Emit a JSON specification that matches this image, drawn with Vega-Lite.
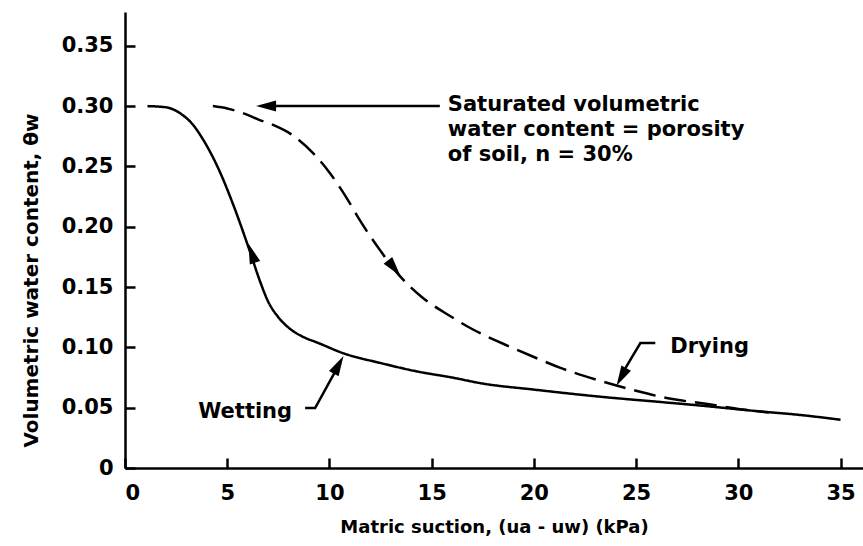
{
  "$schema": "https://vega.github.io/schema/vega-lite/v6.json",
  "width": 738,
  "height": 456,
  "autosize": {"type": "none"},
  "padding": {"left": 125, "top": 12, "right": 0, "bottom": 78},
  "background": "white",
  "config": {
    "view": {"stroke": null},
    "font": "DejaVu Sans",
    "axis": {
      "domainColor": "black", "domainWidth": 2.5, "tickColor": "black", "tickWidth": 2.5,
      "tickSize": -10, "grid": false, "labelColor": "black", "titleColor": "black",
      "labelFont": "DejaVu Sans", "titleFont": "DejaVu Sans", "labelFontWeight": "bold", "titleFontWeight": "bold"
    }
  },
  "datasets": {
    "curves": [
      {"curve": "Wetting", "x": 1.1, "y": 0.300},
      {"curve": "Wetting", "x": 2.0, "y": 0.299},
      {"curve": "Wetting", "x": 2.7, "y": 0.294},
      {"curve": "Wetting", "x": 3.3, "y": 0.285},
      {"curve": "Wetting", "x": 3.9, "y": 0.270},
      {"curve": "Wetting", "x": 4.6, "y": 0.247},
      {"curve": "Wetting", "x": 5.3, "y": 0.218},
      {"curve": "Wetting", "x": 6.1, "y": 0.180},
      {"curve": "Wetting", "x": 6.6, "y": 0.155},
      {"curve": "Wetting", "x": 7.0, "y": 0.138},
      {"curve": "Wetting", "x": 7.5, "y": 0.125},
      {"curve": "Wetting", "x": 8.1, "y": 0.115},
      {"curve": "Wetting", "x": 8.8, "y": 0.108},
      {"curve": "Wetting", "x": 9.4, "y": 0.104},
      {"curve": "Wetting", "x": 10.7, "y": 0.095},
      {"curve": "Wetting", "x": 12.5, "y": 0.087},
      {"curve": "Wetting", "x": 14.3, "y": 0.080},
      {"curve": "Wetting", "x": 16.0, "y": 0.075},
      {"curve": "Wetting", "x": 17.5, "y": 0.070},
      {"curve": "Wetting", "x": 20.0, "y": 0.065},
      {"curve": "Wetting", "x": 23.3, "y": 0.059},
      {"curve": "Wetting", "x": 26.0, "y": 0.055},
      {"curve": "Wetting", "x": 28.0, "y": 0.052},
      {"curve": "Wetting", "x": 31.0, "y": 0.047},
      {"curve": "Wetting", "x": 33.0, "y": 0.044},
      {"curve": "Wetting", "x": 35.0, "y": 0.040},
      {"curve": "Drying", "x": 4.3, "y": 0.300},
      {"curve": "Drying", "x": 5.0, "y": 0.298},
      {"curve": "Drying", "x": 5.8, "y": 0.294},
      {"curve": "Drying", "x": 6.5, "y": 0.289},
      {"curve": "Drying", "x": 7.3, "y": 0.284},
      {"curve": "Drying", "x": 8.1, "y": 0.277},
      {"curve": "Drying", "x": 9.2, "y": 0.261},
      {"curve": "Drying", "x": 10.0, "y": 0.245},
      {"curve": "Drying", "x": 10.8, "y": 0.225},
      {"curve": "Drying", "x": 11.5, "y": 0.205},
      {"curve": "Drying", "x": 12.5, "y": 0.180},
      {"curve": "Drying", "x": 13.3, "y": 0.162},
      {"curve": "Drying", "x": 14.5, "y": 0.142},
      {"curve": "Drying", "x": 15.9, "y": 0.126},
      {"curve": "Drying", "x": 17.0, "y": 0.115},
      {"curve": "Drying", "x": 18.5, "y": 0.103},
      {"curve": "Drying", "x": 20.0, "y": 0.092},
      {"curve": "Drying", "x": 21.3, "y": 0.083},
      {"curve": "Drying", "x": 23.3, "y": 0.072},
      {"curve": "Drying", "x": 25.0, "y": 0.064},
      {"curve": "Drying", "x": 26.5, "y": 0.058},
      {"curve": "Drying", "x": 28.5, "y": 0.053},
      {"curve": "Drying", "x": 30.0, "y": 0.049},
      {"curve": "Drying", "x": 31.5, "y": 0.046}
    ],
    "leaders": [
      {"id": "sat", "order": 1, "x": 15.4, "y": 0.300},
      {"id": "sat", "order": 2, "x": 7.0, "y": 0.300},
      {"id": "wet", "order": 1, "x": 8.81, "y": 0.0497},
      {"id": "wet", "order": 2, "x": 9.30, "y": 0.0497},
      {"id": "wet", "order": 3, "x": 10.3, "y": 0.0805},
      {"id": "dry", "order": 1, "x": 25.94, "y": 0.1036},
      {"id": "dry", "order": 2, "x": 25.21, "y": 0.1036},
      {"id": "dry", "order": 3, "x": 24.45, "y": 0.082}
    ],
    "arrows": [
      {"id": "sat", "x": 6.9, "y": 0.300},
      {"id": "wetcurve", "x": 6.2, "y": 0.178},
      {"id": "drycurve", "x": 13.17, "y": 0.1657},
      {"id": "wet", "x": 10.45, "y": 0.0855},
      {"id": "dry", "x": 24.28, "y": 0.0755}
    ],
    "labels": [
      {"id": "sat", "x": 15.4, "y": 0.300, "text": "Saturated volumetric\nwater content = porosity\nof soil, n = 30%"},
      {"id": "wet", "x": 8.81, "y": 0.0497, "text": "Wetting"},
      {"id": "dry", "x": 25.94, "y": 0.1036, "text": "Drying"}
    ]
  },
  "encoding": {
    "x": {"field": "x", "type": "quantitative",
      "scale": {"domain": [0, 36.1], "nice": false, "zero": false},
      "axis": {"values": [0, 5, 10, 15, 20, 25, 30, 35], "labelFontSize": 21, "labelPadding": 24,
        "title": "Matric suction, (ua - uw) (kPa)", "titleFontSize": 18, "titlePadding": 15}},
    "y": {"field": "y", "type": "quantitative",
      "scale": {"domain": [0, 0.378], "nice": false, "zero": false},
      "axis": {"values": [0, 0.05, 0.1, 0.15, 0.2, 0.25, 0.3, 0.35], "labelFontSize": 21, "labelPadding": 22,
        "labelExpr": "datum.value == 0 ? '0' : format(datum.value, '.2f')",
        "title": "Volumetric water content, θw", "titleFontSize": 20, "titlePadding": 20, "titleY": 268}}
  },
  "layer": [
    {
      "data": {"name": "curves"},
      "mark": {"type": "line", "color": "black", "strokeWidth": 2.5, "strokeCap": "butt", "interpolate": "monotone"},
      "encoding": {
        "detail": {"field": "curve"},
        "strokeDash": {"field": "curve", "type": "nominal", "legend": null,
          "scale": {"domain": ["Wetting", "Drying"], "range": [[1, 0], [22, 9]]}}
      }
    },
    {
      "data": {"name": "leaders"},
      "mark": {"type": "line", "color": "black", "strokeWidth": 2.5},
      "encoding": {"detail": {"field": "id"}, "order": {"field": "order"}}
    },
    {
      "data": {"name": "arrows"},
      "transform": [{"filter": "datum.id == 'sat'"}],
      "mark": {"type": "point", "shape": "M0,-1L0.55,1L-0.55,1Z", "filled": true, "color": "black", "opacity": 1, "size": 400, "angle": 270}
    },
    {
      "data": {"name": "arrows"},
      "transform": [{"filter": "datum.id == 'wetcurve'"}],
      "mark": {"type": "point", "shape": "M0,-1L0.55,1L-0.55,1Z", "filled": true, "color": "black", "opacity": 1, "size": 400, "angle": 341}
    },
    {
      "data": {"name": "arrows"},
      "transform": [{"filter": "datum.id == 'drycurve'"}],
      "mark": {"type": "point", "shape": "M0,-1L0.55,1L-0.55,1Z", "filled": true, "color": "black", "opacity": 1, "size": 400, "angle": 141}
    },
    {
      "data": {"name": "arrows"},
      "transform": [{"filter": "datum.id == 'wet'"}],
      "mark": {"type": "point", "shape": "M0,-1L0.55,1L-0.55,1Z", "filled": true, "color": "black", "opacity": 1, "size": 400, "angle": 29}
    },
    {
      "data": {"name": "arrows"},
      "transform": [{"filter": "datum.id == 'dry'"}],
      "mark": {"type": "point", "shape": "M0,-1L0.55,1L-0.55,1Z", "filled": true, "color": "black", "opacity": 1, "size": 400, "angle": 209}
    },
    {
      "data": {"name": "labels"},
      "transform": [{"filter": "datum.id == 'sat'"}],
      "mark": {"type": "text", "align": "left", "baseline": "top", "dx": 8, "dy": -12, "fontSize": 21, "fontWeight": "bold", "lineHeight": 25, "lineBreak": "\n", "color": "black"},
      "encoding": {"text": {"field": "text"}}
    },
    {
      "data": {"name": "labels"},
      "transform": [{"filter": "datum.id == 'wet'"}],
      "mark": {"type": "text", "align": "right", "baseline": "middle", "dx": -13, "dy": 4, "fontSize": 21, "fontWeight": "bold", "color": "black"},
      "encoding": {"text": {"field": "text"}}
    },
    {
      "data": {"name": "labels"},
      "transform": [{"filter": "datum.id == 'dry'"}],
      "mark": {"type": "text", "align": "left", "baseline": "middle", "dx": 15, "dy": 4, "fontSize": 21, "fontWeight": "bold", "color": "black"},
      "encoding": {"text": {"field": "text"}}
    }
  ]
}
